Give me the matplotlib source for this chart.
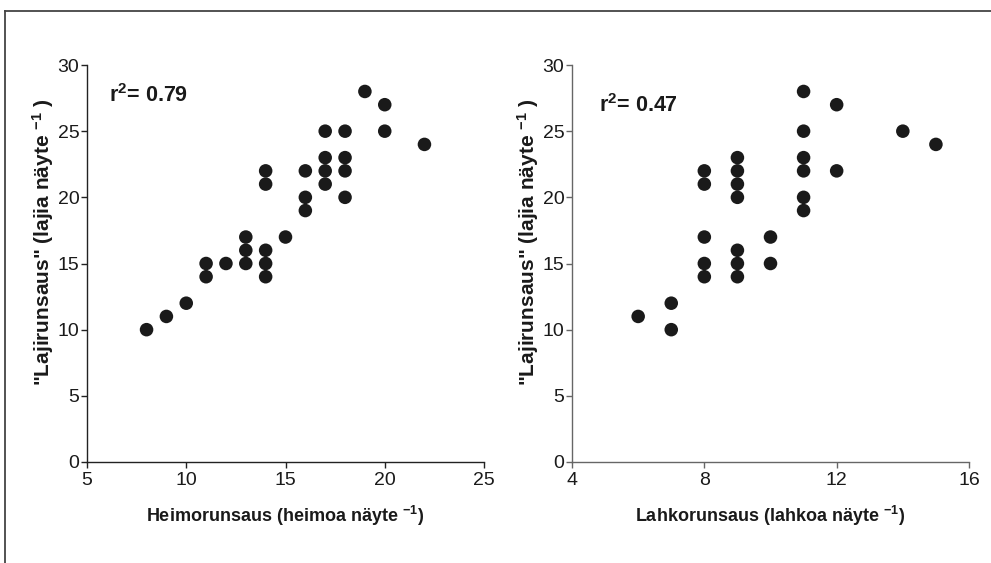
import matplotlib
matplotlib.use("Agg")
import matplotlib.pyplot as plt
from matplotlib.lines import Line2D

plt.rcParams['font.family'] = ['Liberation Sans', 'DejaVu Sans']
plt.rcParams['mathtext.fontset'] = 'custom'
plt.rcParams['mathtext.rm'] = 'Liberation Sans:bold'
plt.rcParams['mathtext.bf'] = 'Liberation Sans:bold'
plt.rcParams['mathtext.default'] = 'bf'

# Family richness vs. species richness
family_x = [8, 9, 10, 11, 11, 12, 13, 13, 13, 14, 14, 14, 14, 14, 15,
            16, 16, 16, 17, 17, 17, 17, 18, 18, 18, 18, 19, 20, 20, 22]
family_y = [10, 11, 12, 15, 14, 15, 17, 16, 15, 22, 21, 16, 15, 14, 17,
            22, 20, 19, 25, 23, 22, 21, 25, 23, 22, 20, 28, 27, 25, 24]

# Order richness vs. species richness
order_x = [6, 7, 7, 8, 8, 8, 8, 8, 9, 9, 9, 9, 9, 9, 9,
           10, 10, 11, 11, 11, 11, 11, 11, 12, 12, 14, 15]
order_y = [11, 12, 10, 22, 21, 17, 15, 14, 23, 22, 21, 20, 16, 15, 14,
           17, 15, 28, 25, 23, 22, 20, 19, 27, 22, 25, 24]

r2_labels = ["0.79", "0.47"]
x_labels = [r'Heimorunsaus (heimoa näyte $^{-1}$)',
            r'Lahkorunsaus (lahkoa näyte $^{-1}$)']
y_label = r'"Lajirunsaus" (lajia näyte $^{-1}$ )'
x_ticks = [[5, 10, 15, 20, 25], [4, 8, 12, 16]]
y_ticks = [0, 5, 10, 15, 20, 25, 30]

W, H = 991, 563
fig = plt.figure(figsize=(W / 100, H / 100), dpi=100)

# outer frame (top and left edges)
fig.add_artist(Line2D([5 / W, 1], [1 - 11 / H, 1 - 11 / H], transform=fig.transFigure,
                      color='#444444', lw=1.3))
fig.add_artist(Line2D([5 / W, 5 / W], [0, 1 - 11 / H], transform=fig.transFigure,
                      color='#444444', lw=1.3))

panels = [
    dict(left=87, xs=family_x, ys=family_y, r2=r2_labels[0], xl=x_labels[0],
         xt=x_ticks[0], spine='#222222', txt=(0.055, 0.907)),
    dict(left=572, xs=order_x, ys=order_y, r2=r2_labels[1], xl=x_labels[1],
         xt=x_ticks[1], spine='#666666', txt=(0.068, 0.882)),
]

for p in panels:
    ax = fig.add_axes([p['left'] / W, 1 - 462 / H, 397 / W, 397 / H])
    ax.scatter(p['xs'], p['ys'], s=95, color='#1a1a1a', edgecolors='none',
               zorder=3, clip_on=False)
    ax.set_xlim(p['xt'][0], p['xt'][-1])
    ax.set_ylim(0, 30)
    ax.set_xticks(p['xt'])
    ax.set_yticks(y_ticks)
    for s in ('top', 'right'):
        ax.spines[s].set_visible(False)
    for s in ('left', 'bottom'):
        ax.spines[s].set_color(p['spine'])
        ax.spines[s].set_linewidth(1.0)
    ax.tick_params(direction='out', length=4, width=1.0, color=p['spine'],
                   labelsize=14, labelcolor='#1a1a1a')
    ax.tick_params(axis='x', pad=3.5)
    ax.tick_params(axis='y', pad=1.5)
    ax.set_xlabel(p['xl'], fontsize=13, fontweight='bold', color='#1a1a1a')
    ax.set_ylabel(y_label, fontsize=15, fontweight='bold', color='#1a1a1a')
    ax.xaxis.set_label_coords(0.5, -0.105)
    ax.yaxis.set_label_coords(-0.078, 0.554)
    ax.text(p['txt'][0], p['txt'][1], 'r$^{2}$= ' + p['r2'], transform=ax.transAxes,
            fontsize=15.5, fontweight='bold', color='#1a1a1a', va='baseline', ha='left')

fig.savefig('out.png', dpi=100)
